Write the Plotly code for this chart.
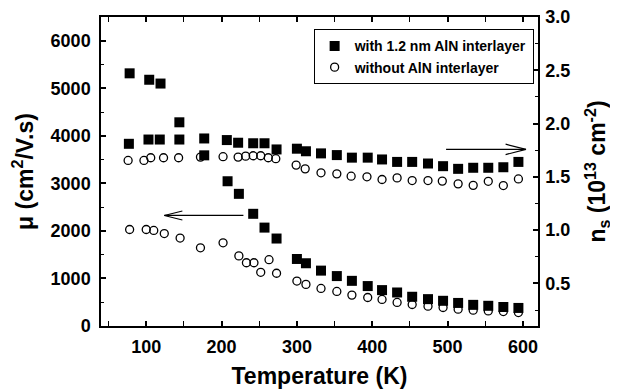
import plotly.graph_objects as go

# ---------------- data ----------------
T_mu_with = [78, 104, 119, 144, 177, 208, 223, 242, 257, 273, 300, 312, 332, 353, 373,
             394, 413, 433, 453, 474, 494, 514, 534, 554, 574, 594]
mu_with = [5315, 5180, 5100, 4285, 3590, 3045, 2780, 2360, 2070, 1840, 1410, 1320, 1165,
           1050, 950, 840, 755, 705, 615, 565, 530, 485, 445, 425, 400, 380]

T_mu_without = [78, 100, 110, 124, 145, 172, 202, 223, 233, 243, 252, 263, 273, 300, 312,
                332, 353, 373, 394, 413, 433, 453, 474, 494, 514, 534, 554, 574, 594]
mu_without = [2030, 2030, 2010, 1945, 1850, 1645, 1750, 1475, 1330, 1330, 1130, 1395, 1110,
              945, 875, 790, 727, 650, 600, 558, 495, 452, 416, 389, 353, 332, 317, 304, 283]

T_ns_with = [77, 103, 118, 144, 177, 207, 222, 242, 257, 273, 300, 312, 332, 353, 373,
             394, 413, 433, 453, 474, 494, 514, 534, 554, 574, 594]
ns_with = [1.81, 1.85, 1.85, 1.85, 1.86, 1.845, 1.82, 1.815, 1.815, 1.757, 1.764, 1.74, 1.72,
           1.704, 1.68, 1.68, 1.663, 1.64, 1.64, 1.625, 1.60, 1.575, 1.585, 1.585, 1.59, 1.64]

T_ns_without = [76, 97, 106, 123, 143, 172, 202, 222, 232, 242, 252, 262, 272, 299, 311,
                332, 353, 372, 393, 413, 433, 453, 474, 493, 514, 534, 554, 574, 594]
ns_without = [1.654, 1.654, 1.679, 1.679, 1.679, 1.685, 1.689, 1.685, 1.694, 1.698, 1.698,
              1.679, 1.67, 1.61, 1.575, 1.538, 1.528, 1.506, 1.50, 1.475, 1.49, 1.465, 1.465,
              1.46, 1.434, 1.42, 1.458, 1.418, 1.48]

labels = ["with 1.2 nm AlN interlayer", "without AlN interlayer"]

# arrows (head_x, tail_x, y on mobility axis)
arrow_left = (124, 229, 2325)
arrow_right = (604, 498, 3715)

FONT = "Liberation Sans, Arial, sans-serif"

fig = go.Figure()

circ = dict(symbol="circle-open", size=8, color="black", line=dict(width=1.3, color="black"))
sq = dict(symbol="square", size=10, color="black")

fig.add_trace(go.Scatter(x=T_mu_without, y=mu_without, mode="markers", marker=circ,
                         name=labels[1], showlegend=False, yaxis="y"))
fig.add_trace(go.Scatter(x=T_ns_without, y=ns_without, mode="markers", marker=circ,
                         name=labels[1], showlegend=False, yaxis="y2"))
fig.add_trace(go.Scatter(x=T_mu_with, y=mu_with, mode="markers", marker=sq,
                         name=labels[0], showlegend=True, yaxis="y", legendrank=1))
fig.add_trace(go.Scatter(x=T_ns_with, y=ns_with, mode="markers", marker=sq,
                         name=labels[0], showlegend=False, yaxis="y2"))
# legend entry for open circles
fig.add_trace(go.Scatter(x=[None], y=[None], mode="markers", marker=circ,
                         name=labels[1], showlegend=True, yaxis="y", legendrank=2))

# arrows as shapes
def arrow(head, tail, y, dx, dy):
    sgn = 1 if tail > head else -1
    return [
        dict(type="line", xref="x", yref="y", x0=tail, x1=head, y0=y, y1=y,
             line=dict(color="black", width=1.2)),
        dict(type="path", xref="x", yref="y",
             path=f"M {head + sgn*dx},{y + dy} L {head},{y} L {head + sgn*dx},{y - dy}",
             line=dict(color="black", width=1.2)),
    ]

shapes = arrow(*arrow_left, 24, 95) + arrow(*arrow_right, 27, 110)

tickfont = dict(family=FONT, size=18, color="black", weight="bold")
titlefont = dict(family=FONT, size=23, color="black", weight="bold")

axis_common = dict(showgrid=False, zeroline=False, showline=True, linecolor="black",
                   linewidth=1.5, ticks="inside", ticklen=5, tickwidth=1.5,
                   tickcolor="black", tickfont=tickfont, automargin=False,
                   ticklabeloverflow="allow")

fig.update_layout(
    width=610, height=384,
    margin=dict(l=93, r=80, t=9, b=66),
    paper_bgcolor="white", plot_bgcolor="white",
    shapes=shapes,
    xaxis=dict(range=[40, 620], tick0=0, dtick=100, mirror="allticks", ticklabelstandoff=4,
               minor=dict(dtick=50, ticks="inside", ticklen=3, tickwidth=1.2, tickcolor="black"),
               title=dict(text="Temperature (K)", font=titlefont, standoff=12),
               **axis_common),
    yaxis=dict(range=[0, 6500], tick0=0, dtick=1000, mirror=False, ticklabelstandoff=5,
               minor=dict(dtick=500, ticks="inside", ticklen=3, tickwidth=1.2, tickcolor="black"),
               title=dict(text="μ (cm<sup>2</sup>/V.s)", font=titlefont, standoff=18),
               **axis_common),
    yaxis2=dict(range=[0.1, 3.0], tick0=0, dtick=0.5, tickformat=".1f", overlaying="y",
                side="right", ticklabelstandoff=2,
                minor=dict(dtick=0.25, ticks="inside", ticklen=3, tickwidth=1.2, tickcolor="black"),
                title=dict(text="n<sub>s</sub> (10<sup>13</sup> cm<sup>-2</sup>)", font=titlefont,
                           standoff=20),
                **axis_common),
    legend=dict(x=0.99, xanchor="right", y=0.96, yanchor="top",
                bordercolor="black", borderwidth=1, bgcolor="white",
                font=dict(family=FONT, size=14, color="black", weight="bold"),
                itemwidth=30, tracegroupgap=0),
    showlegend=True,
)

fig.write_html("out.html")
